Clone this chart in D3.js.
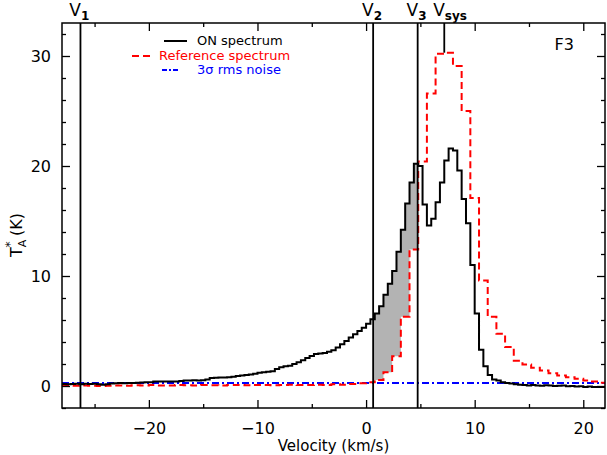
<!DOCTYPE html>
<html>
<head>
<meta charset="UTF-8">
<title>F3 spectrum</title>
<script src="https://cdnjs.cloudflare.com/ajax/libs/d3/7.8.5/d3.min.js"></script>
<style>
  body { margin: 0; background: #fff; }
  svg { display: block; font-family: "DejaVu Sans", sans-serif; }
  .axis path { display: none; }
  .axis line { stroke: #000; stroke-width: 1.3; }
</style>
</head>
<body>
<svg id="chart" width="607" height="455"></svg>
<script>
// ON spectrum: channel centres start at onStart, spaced onWidth (km/s)
const onStart = -27.8, onWidth = 0.4;
const onTemp = [
  0.18, 0.16, 0.18, 0.20, 0.17, 0.20, 0.18, 0.20, 0.15, 0.12,
  0.15, 0.22, 0.25, 0.27, 0.25, 0.27, 0.28, 0.30, 0.32, 0.33,
  0.35, 0.40, 0.40, 0.42, 0.40, 0.42, 0.42, 0.45, 0.50, 0.50,
  0.52, 0.50, 0.52, 0.60, 0.72, 0.75, 0.78, 0.78, 0.80, 0.85,
  0.90, 0.95, 1.00, 1.05, 1.12, 1.20, 1.25, 1.30, 1.35, 1.55,
  1.70, 1.80, 1.85, 2.00, 2.15, 2.35, 2.55, 2.72, 2.90, 2.95,
  3.00, 3.12, 3.25, 3.50, 3.80, 4.10, 4.40, 4.70, 5.00, 5.30,
  5.65, 6.07, 6.60, 7.25, 8.30, 9.30, 10.45, 12.2, 14.2, 16.6,
  18.5, 20.2, 20.0, 16.5, 14.6, 15.2, 16.7, 18.5, 20.5, 21.6,
  21.4, 19.6, 17.0, 14.8, 11.0, 6.60, 3.30, 1.80, 1.00, 0.60,
  0.50, 0.35, 0.27, 0.22, 0.15, 0.12, 0.10, 0.05, 0.08, 0.05,
  0.02, 0.06, 0.04, 0.00, 0.03, 0.05, -0.02, 0.00, -0.05, -0.02,
  -0.08, -0.05, -0.10, -0.08, -0.10
];

// Reference spectrum: coarser channels
const refStart = -27.6, refWidth = 0.8;
const refTemp = [
  0.05, 0.02, 0.05, 0.03, 0.00, 0.02, 0.05, 0.03, 0.06, 0.05,
  0.08, 0.05, 0.04, 0.08, 0.06, 0.05, 0.08, 0.06, 0.05, 0.10,
  0.08, 0.06, 0.10, 0.08, 0.06, 0.10, 0.12, 0.08, 0.10, 0.12,
  0.10, 0.15, 0.12, 0.18, 0.25, 0.35, 0.55, 1.24, 2.70, 6.30,
  12.4, 20.4, 26.6, 30.2, 30.3, 29.1, 25.0, 17.1, 9.60, 6.30,
  4.75, 3.55, 2.30, 1.95, 1.65, 1.40, 1.15, 0.95, 0.80, 0.65,
  0.50, 0.40, 0.30
];

const noise3sigma = 0.28;

const markerNames = ["1", "2", "3", "sys"];
const markerVel = [-26.3, 0.65, 4.75, 7.2];

const xMajor = [-20, -10, 0, 10, 20];
const xMinor = [-25, -15, -5, 5, 15];
const yMajor = [0, 10, 20, 30];
const yMinor = [-2, 2, 4, 6, 8, 12, 14, 16, 18, 22, 24, 26, 28, 32];

const legendNames = ["ON spectrum", "Reference spectrum", "3\u03c3 rms noise"];
const legendColors = ["#000", "#ff0000", "#0000ff"];

// ---------------------------------------------------------------
const svg = d3.select("#chart");
const pLeft = 62, pRight = 605, pTop = 23, pBottom = 408;

const x = d3.scaleLinear().domain([-28, 22]).range([pLeft, pRight]);
const y = d3.scaleLinear().domain([-2, 33]).range([pBottom, pTop]);

svg.append("rect").attr("width", 607).attr("height", 455).attr("fill", "#fff");

svg.append("clipPath").attr("id", "plot")
  .append("rect").attr("x", pLeft).attr("y", pTop)
  .attr("width", pRight - pLeft).attr("height", pBottom - pTop);

// step helpers
function edges(start, w, arr) {
  const pts = arr.map((t, i) => [start + i * w - w / 2, t]);
  pts.push([start + (arr.length - 1) * w + w / 2, arr[arr.length - 1]]);
  return pts;
}
function valueAt(start, w, arr, v) {
  const i = Math.floor((v - (start - w / 2)) / w);
  return arr[Math.max(0, Math.min(arr.length - 1, i))];
}

const stepLine = d3.line()
  .x(d => x(d[0])).y(d => y(d[1]))
  .curve(d3.curveStepAfter);

const g = svg.append("g").attr("clip-path", "url(#plot)");

// shaded region between V2 and V3
const v2 = markerVel[1], v3 = markerVel[2];
let breaks = [v2, v3];
edges(onStart, onWidth, onTemp).forEach(p => { if (p[0] > v2 && p[0] < v3) breaks.push(p[0]); });
edges(refStart, refWidth, refTemp).forEach(p => { if (p[0] > v2 && p[0] < v3) breaks.push(p[0]); });
breaks.sort((a, b) => a - b);
const shade = breaks.map((b, i) => {
  const mid = i < breaks.length - 1 ? (b + breaks[i + 1]) / 2 : b - 0.01;
  return { v: b, on: valueAt(onStart, onWidth, onTemp, mid), ref: valueAt(refStart, refWidth, refTemp, mid) };
});
g.append("path")
  .attr("d", d3.area().x(d => x(d.v)).y0(d => y(d.ref)).y1(d => y(d.on))
    .curve(d3.curveStepAfter)(shade))
  .attr("fill", "#b3b3b3");

// 3 sigma noise line
g.append("line")
  .attr("x1", x(-28)).attr("x2", x(22))
  .attr("y1", y(noise3sigma)).attr("y2", y(noise3sigma))
  .attr("stroke", legendColors[2]).attr("stroke-width", 2)
  .attr("stroke-dasharray", "7,3,2,3");

// reference spectrum
g.append("path")
  .attr("d", stepLine(edges(refStart, refWidth, refTemp)))
  .attr("fill", "none").attr("stroke", legendColors[1])
  .attr("stroke-width", 2).attr("stroke-dasharray", "7,4");

// ON spectrum
g.append("path")
  .attr("d", stepLine(edges(onStart, onWidth, onTemp)))
  .attr("fill", "none").attr("stroke", legendColors[0])
  .attr("stroke-width", 2);

// velocity markers
markerVel.forEach((v, i) => {
  const isSys = markerNames[i] === "sys";
  svg.append("line")
    .attr("x1", x(v)).attr("x2", x(v))
    .attr("y1", pTop)
    .attr("y2", isSys ? y(valueAt(refStart, refWidth, refTemp, v)) : pBottom)
    .attr("stroke", "#000").attr("stroke-width", 1.8);
  svg.append("text")
    .attr("x", x(v) + 0.5).attr("y", 16)
    .attr("text-anchor", "end").attr("font-size", 17)
    .text("V");
  svg.append("text")
    .attr("x", x(v) + 0.5).attr("y", 20)
    .attr("font-size", 12).attr("font-weight", "bold")
    .text(markerNames[i]);
});

// axes, ticks pointing inward on all four sides
function addAxis(axisFn, scale, values, size, labels, transform) {
  const a = axisFn(scale).tickValues(values).tickSizeInner(-size).tickSizeOuter(0)
    .tickPadding(10);
  if (!labels) a.tickFormat("");
  return svg.append("g").attr("class", "axis").attr("transform", transform).call(a);
}
const xb = addAxis(d3.axisBottom, x, xMajor, 8, true, `translate(0,${pBottom})`);
addAxis(d3.axisBottom, x, xMinor, 4, false, `translate(0,${pBottom})`);
addAxis(d3.axisTop, x, xMajor, 8, false, `translate(0,${pTop})`);
addAxis(d3.axisTop, x, xMinor, 4, false, `translate(0,${pTop})`);
const yl = addAxis(d3.axisLeft, y, yMajor, 8, true, `translate(${pLeft},0)`);
addAxis(d3.axisLeft, y, yMinor, 4, false, `translate(${pLeft},0)`);
addAxis(d3.axisRight, y, yMajor, 8, false, `translate(${pRight},0)`);
addAxis(d3.axisRight, y, yMinor, 4, false, `translate(${pRight},0)`);

xb.selectAll("text").attr("font-size", 16).attr("font-family", "DejaVu Sans")
  .attr("fill", "#000").attr("dy", "1.0em");
yl.selectAll("text").attr("font-size", 16).attr("font-family", "DejaVu Sans")
  .attr("fill", "#000").attr("x", -11);

// frame
svg.append("rect")
  .attr("x", pLeft).attr("y", pTop)
  .attr("width", pRight - pLeft).attr("height", pBottom - pTop)
  .attr("fill", "none").attr("stroke", "#000").attr("stroke-width", 1.5);

// axis titles
svg.append("text")
  .attr("x", (pLeft + pRight) / 2).attr("y", 451)
  .attr("text-anchor", "middle").attr("font-size", 15)
  .text("Velocity (km/s)");

const yt = svg.append("text")
  .attr("transform", "translate(22,235) rotate(-90)")
  .attr("text-anchor", "middle").attr("font-size", 16);
yt.append("tspan").text("T");
yt.append("tspan").attr("font-size", 11).attr("dy", 4).text("A");
yt.append("tspan").attr("font-size", 13).attr("dx", -8).attr("dy", -12).text("*");
yt.append("tspan").attr("dy", 8).text(" (K)");

// panel label
svg.append("text")
  .attr("x", 574).attr("y", 50)
  .attr("text-anchor", "end").attr("font-size", 16)
  .text("F3");

// legend
const legendTextX = [197, 159, 197];
const legendLineX = [[164, 187], [132, 150], [162, 180]];
const legendY = [45, 60, 74];
const legendDash = [null, "7,4", "5,2,2,2"];
legendNames.forEach((name, i) => {
  svg.append("line")
    .attr("x1", legendLineX[i][0]).attr("x2", legendLineX[i][1])
    .attr("y1", legendY[i] - 4).attr("y2", legendY[i] - 4)
    .attr("stroke", legendColors[i]).attr("stroke-width", 2)
    .attr("stroke-dasharray", legendDash[i]);
  svg.append("text")
    .attr("x", legendTextX[i]).attr("y", legendY[i])
    .attr("font-size", 13).attr("fill", legendColors[i])
    .text(name);
});
</script>
</body>
</html>
